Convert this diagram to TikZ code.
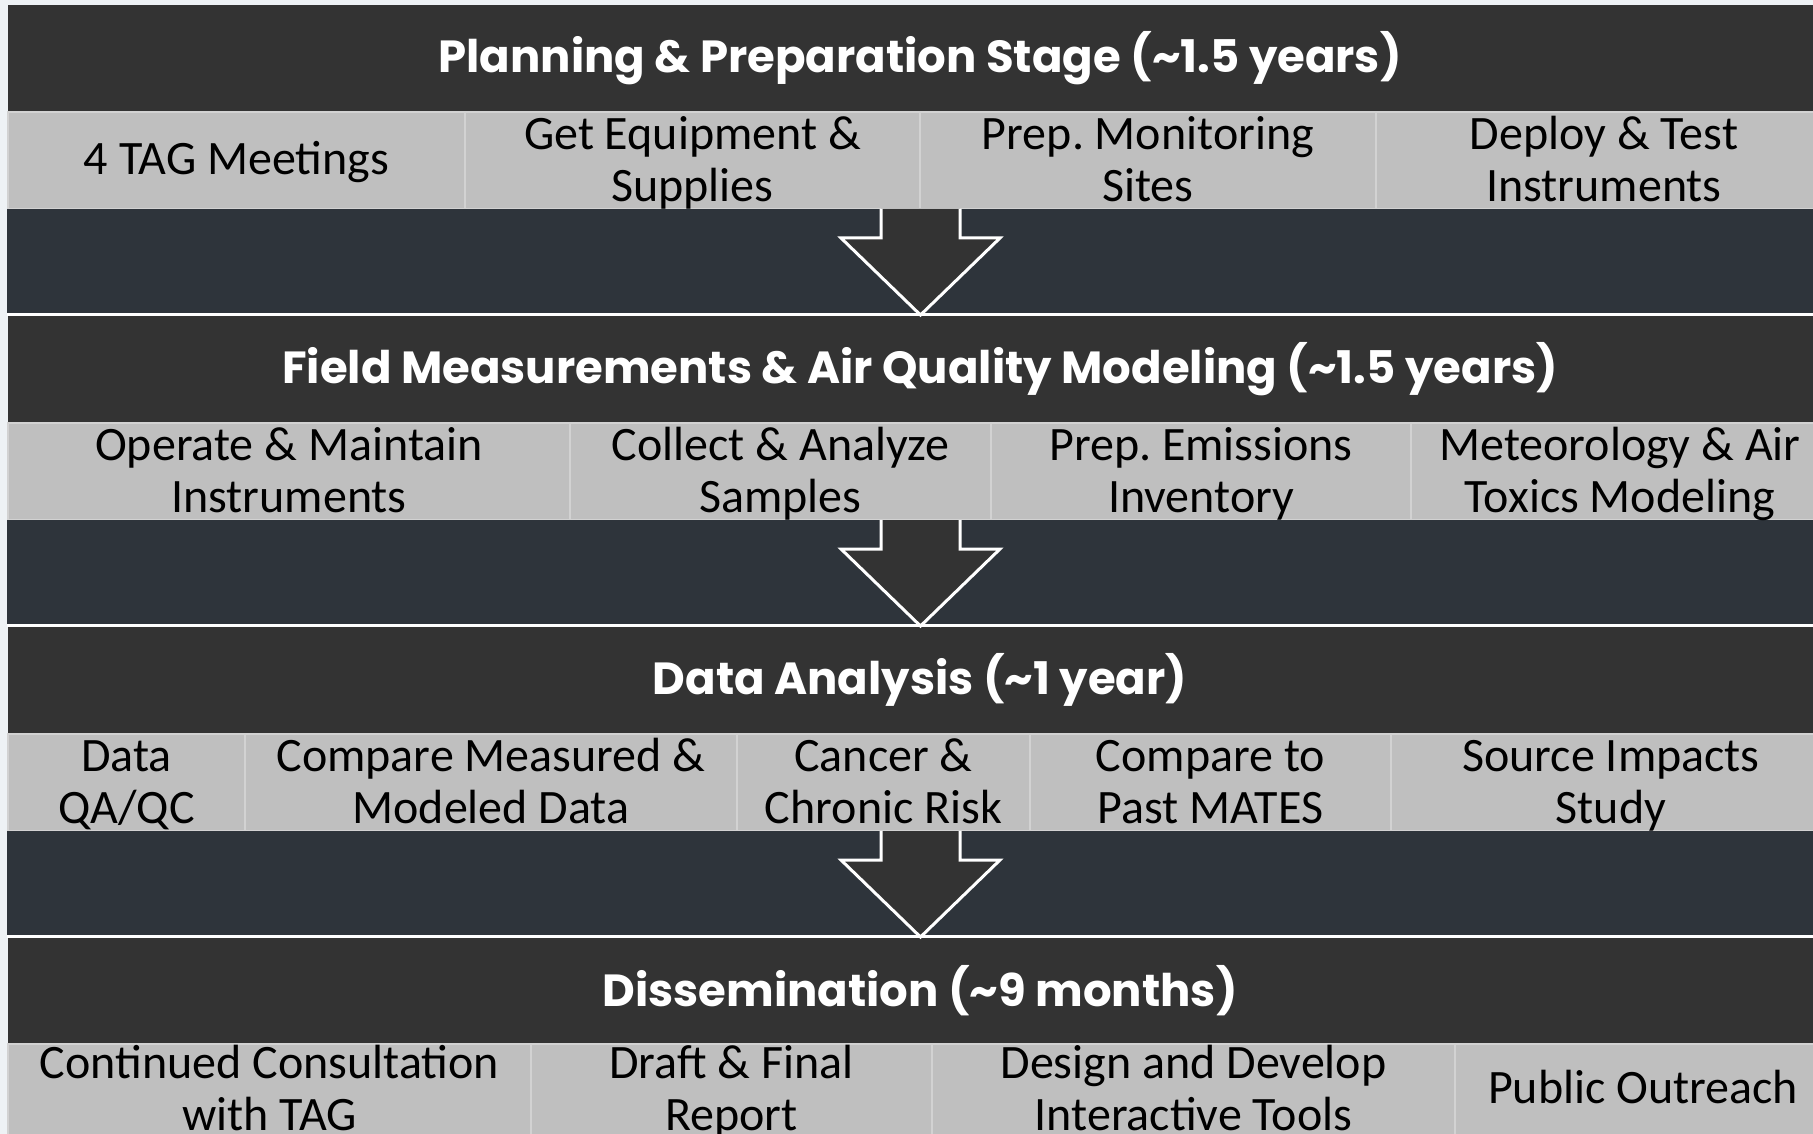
\documentclass[tikz,border=0pt]{standalone}
\usepackage{fontspec}
\setmainfont{Carlito}
\newfontfamily\hfont{Poppins}
\frenchspacing
\definecolor{hdr}{HTML}{333333}
\definecolor{band}{HTML}{2E343B}
\definecolor{cell}{HTML}{BFBFBF}
\definecolor{cellline}{HTML}{D2D2D2}
\definecolor{bg}{HTML}{EEF2F5}
\tikzset{
  hdrtext/.style={text=white, inner sep=0pt, font=\hfont\bfseries\fontsize{45}{54}\selectfont},
  celltext/.style={text=black, align=center, inner sep=0pt, font=\fontsize{48}{52}\selectfont},
  cellbox/.style={fill=cell, draw=cellline, line width=2pt},
  bigarrow/.style={fill=hdr, draw=white, line width=3pt, line join=miter},
  sepline/.style={draw=white, line width=3pt}
}
\begin{document}
\begin{tikzpicture}[x=1pt,y=-1pt]
\useasboundingbox (0,0) rectangle (1813,1134);
\fill[bg] (0,0) rectangle (1813,1134);
% ---------- stage 1 ----------
\fill[hdr] (8,5) rectangle (1840,112);
\path[cellbox] (8,112) rectangle (465,209);
\path[cellbox] (465,112) rectangle (920,209);
\path[cellbox] (920,112) rectangle (1376,209);
\path[cellbox] (1376,112) rectangle (1840,209);
\fill[band] (7,209) rectangle (1840,313);
\draw[sepline] (7,314.5) -- (1840,314.5);
% ---------- stage 2 ----------
\fill[hdr] (8,316) rectangle (1840,423);
\path[cellbox] (8,423) rectangle (570,520);
\path[cellbox] (570,423) rectangle (991,520);
\path[cellbox] (991,423) rectangle (1411,520);
\path[cellbox] (1411,423) rectangle (1840,520);
\fill[band] (7,520) rectangle (1840,624);
\draw[sepline] (7,625.5) -- (1840,625.5);
% ---------- stage 3 ----------
\fill[hdr] (8,627) rectangle (1840,734);
\path[cellbox] (8,734) rectangle (245,831);
\path[cellbox] (245,734) rectangle (737,831);
\path[cellbox] (737,734) rectangle (1030,831);
\path[cellbox] (1030,734) rectangle (1391,831);
\path[cellbox] (1391,734) rectangle (1840,831);
\fill[band] (7,831) rectangle (1840,935);
\draw[sepline] (7,936.5) -- (1840,936.5);
% ---------- stage 4 ----------
\fill[hdr] (8,938) rectangle (1840,1044);
\path[cellbox] (8,1044) rectangle (531,1145);
\path[cellbox] (531,1044) rectangle (932,1145);
\path[cellbox] (932,1044) rectangle (1455,1145);
\path[cellbox] (1455,1044) rectangle (1840,1145);
% ---------- arrows ----------
\foreach \dy in {0,311,622}{
  \path[bigarrow] (881,209+\dy) -- (881,238+\dy) -- (841,238+\dy) -- (920.5,315+\dy)
     -- (1000,238+\dy) -- (960,238+\dy) -- (960,209+\dy);
}
% ---------- texts ----------
\node[hdrtext] (h1) at (920,58) {Planning \& Preparation Stage (\textasciitilde 1.5 years)};
\node[celltext] (a1) at (236.5,164) {\strut 4 TAG Meetings};
\node[celltext] (a2) at (692.5,165.5) {\strut Get Equipment \&\\\strut Supplies};
\node[celltext] (a3) at (1148,165.5) {\strut Prep. Monitoring\\\strut Sites};
\node[celltext] (a4) at (1604,165.5) {\strut Deploy \& Test\\\strut Instruments};

\node[hdrtext] (h2) at (920,369) {Field Measurements \& Air Quality Modeling (\textasciitilde 1.5 years)};
\node[celltext] (b1) at (289,476.5) {\strut Operate \& Maintain\\\strut Instruments};
\node[celltext] (b2) at (780.5,476.5) {\strut Collect \& Analyze\\\strut Samples};
\node[celltext] (b3) at (1201,476.5) {\strut Prep. Emissions\\\strut Inventory};
\node[celltext] (b4) at (1620,476.5) {\strut Meteorology \& Air\\\strut Toxics Modeling};

\node[hdrtext] (h3) at (920,680) {Data Analysis (\textasciitilde 1 year)};
\node[celltext] (c1) at (126.5,787.5) {\strut Data\\\strut QA/QC};
\node[celltext] (c2) at (491,787.5) {\strut Compare Measured \&\\\strut Modeled Data};
\node[celltext] (c3) at (883.5,787.5) {\strut Cancer \&\\\strut Chronic Risk};
\node[celltext] (c4) at (1210.5,787.5) {\strut Compare to\\\strut Past MATES};
\node[celltext] (c5) at (1611,787.5) {\strut Source Impacts\\\strut Study};

\node[hdrtext] (h4) at (920,991) {Dissemination (\textasciitilde 9 months)};
\node[celltext] (d1) at (269.5,1094.5) {\strut Continued Consultation\\\strut with TAG};
\node[celltext] (d2) at (731.5,1094.5) {\strut Draft \& Final\\\strut Report};
\node[celltext] (d3) at (1193.5,1094.5) {\strut Design and Develop\\\strut Interactive Tools};
\node[celltext] (d4) at (1643,1093) {\strut Public Outreach};
\end{tikzpicture}
\end{document}
